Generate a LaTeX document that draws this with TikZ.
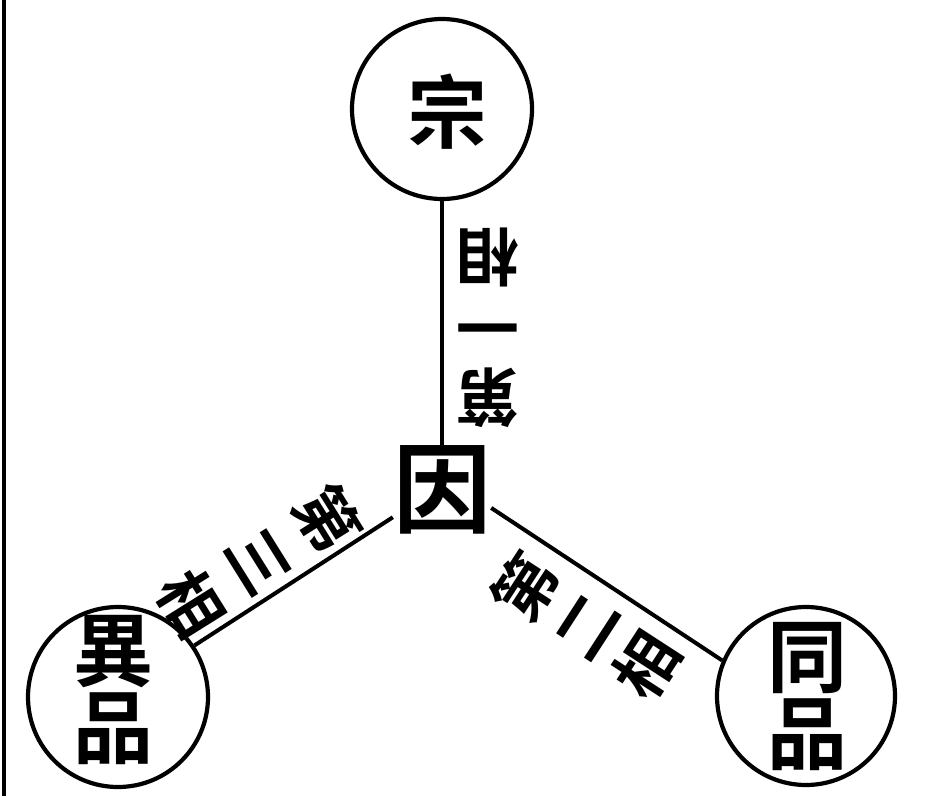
\documentclass[tikz,border=0pt]{standalone}
\usepackage{fontspec}
\newfontfamily\cjk{Noto Sans CJK TC}[BoldFont={* Bold}]
\begin{document}
\begin{tikzpicture}[x=1pt,y=-1pt,
  ring/.style={circle,draw,line width=4.2pt,minimum size=#1,inner sep=0pt},
  ringtext/.style={font=\fontsize{80}{77}\selectfont\cjk\bfseries,align=center,inner sep=0pt},
  lbl/.style={font=\fontsize{63}{#1}\selectfont\cjk\bfseries,align=center,inner sep=0pt},
  conn/.style={line width=4pt}]
\useasboundingbox (0,0) rectangle (930,796);
\draw[line width=4pt] (3.5,0) -- (3.5,796);
\node[ring=180pt] (zong) at (442,109) {};
\node[ringtext] (zongt) at (447,112) {宗};
\node[ring=178pt] (tongpin) at (806,696) {};
\node[ringtext] (tongt) at (807,697) {同\\品};
\node[ring=180pt] (yipin) at (118,697) {};
\node[ringtext] (yit) at (113,690) {異\\品};
\node[font=\fontsize{98}{98}\selectfont\cjk\bfseries,inner sep=0pt] (yin) at (442,490) {因};
\draw[conn] (zong) -- (yin.north);
\draw[conn] (yin.-20) -- (tongpin.157);
\draw[conn] (yin.209) -- (yipin.34);
\node[lbl=70pt,rotate=180] (l1) at (488,328) {第\\一\\相};
\node[lbl=72pt,rotate=57] (l2) at (586,626) {第\\二\\相};
\node[lbl=80pt,rotate=-58] (l3) at (260,561) {第\\三\\相};
\end{tikzpicture}
\end{document}
